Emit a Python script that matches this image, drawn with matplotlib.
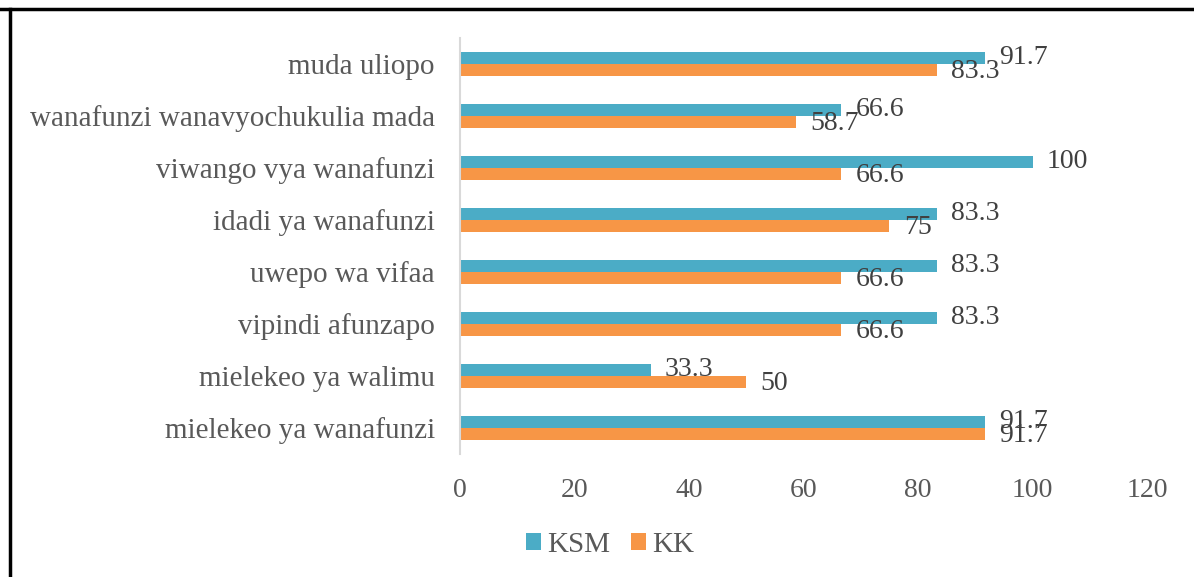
import matplotlib
matplotlib.use("Agg")
import matplotlib.pyplot as plt
from matplotlib.lines import Line2D
import numpy as np

categories = ["muda uliopo", "wanafunzi wanavyochukulia mada", "viwango vya wanafunzi",
              "idadi ya wanafunzi", "uwepo wa vifaa", "vipindi afunzapo",
              "mielekeo ya walimu", "mielekeo ya wanafunzi"]
ksm = [91.7, 66.6, 100, 83.3, 83.3, 83.3, 33.3, 91.7]
kk = [83.3, 58.7, 66.6, 75, 66.6, 66.6, 50, 91.7]
ksm_labels = ["91.7", "66.6", "100", "83.3", "83.3", "83.3", "33.3", "91.7"]
kk_labels = ["83.3", "58.7", "66.6", "75", "66.6", "66.6", "50", "91.7"]
xticks = [0, 20, 40, 60, 80, 100, 120]

plt.rcParams['font.family'] = ['Liberation Serif', 'DejaVu Serif']
TEAL = "#4BACC6"
ORANGE = "#F79646"
GRAY = "#595959"

fig = plt.figure(figsize=(11.94, 5.77), dpi=100)
ax = fig.add_axes([460/1194, 1-454/577, (1147-460)/1194, (454-38)/577])

n = len(categories)
y = np.arange(n)[::-1].astype(float)
h = 0.235
ax.barh(y + h/2, ksm, height=h, color=TEAL, label="KSM")
ax.barh(y - h/2, kk, height=h, color=ORANGE, label="KK")

for yi, v, t in zip(y, ksm, ksm_labels):
    ax.text(v + 2.5, yi + h/2 + 0.01, t, va="center", ha="left", fontsize=20, color="#404040")
for yi, v, t in zip(y, kk, kk_labels):
    ax.text(v + 2.5, yi - h/2 - 0.03, t, va="center", ha="left", fontsize=20, color="#404040")

ax.set_xlim(0, 120)
ax.set_ylim(-0.5, n - 0.5)
ax.set_xticks(xticks)
ax.set_xticklabels([str(t) for t in xticks])
ax.set_yticks(y)
ax.set_yticklabels(categories)
ax.tick_params(axis="both", length=0, labelcolor=GRAY)
ax.tick_params(axis="x", pad=17, labelsize=20)
ax.tick_params(axis="y", pad=18, labelsize=21)
for s in ["top", "right", "bottom"]:
    ax.spines[s].set_visible(False)
ax.spines["left"].set_color("#D9D9D9")
ax.spines["left"].set_linewidth(1.5)

leg = fig.legend(loc="center", bbox_to_anchor=(610/1194, 1-545/577), ncol=2, frameon=False,
                 fontsize=21, handlelength=0.52, handleheight=0.52, handletextpad=0.2,
                 columnspacing=0.7)
for t in leg.get_texts():
    t.set_color(GRAY)

# frame borders
fig.add_artist(Line2D([0, 1], [1-9/577, 1-9/577], color="black", lw=2.5, transform=fig.transFigure))
fig.add_artist(Line2D([10/1194, 10/1194], [0, 1-9/577], color="black", lw=2.5, transform=fig.transFigure))

fig.savefig("out.png", dpi=100, facecolor="white")
